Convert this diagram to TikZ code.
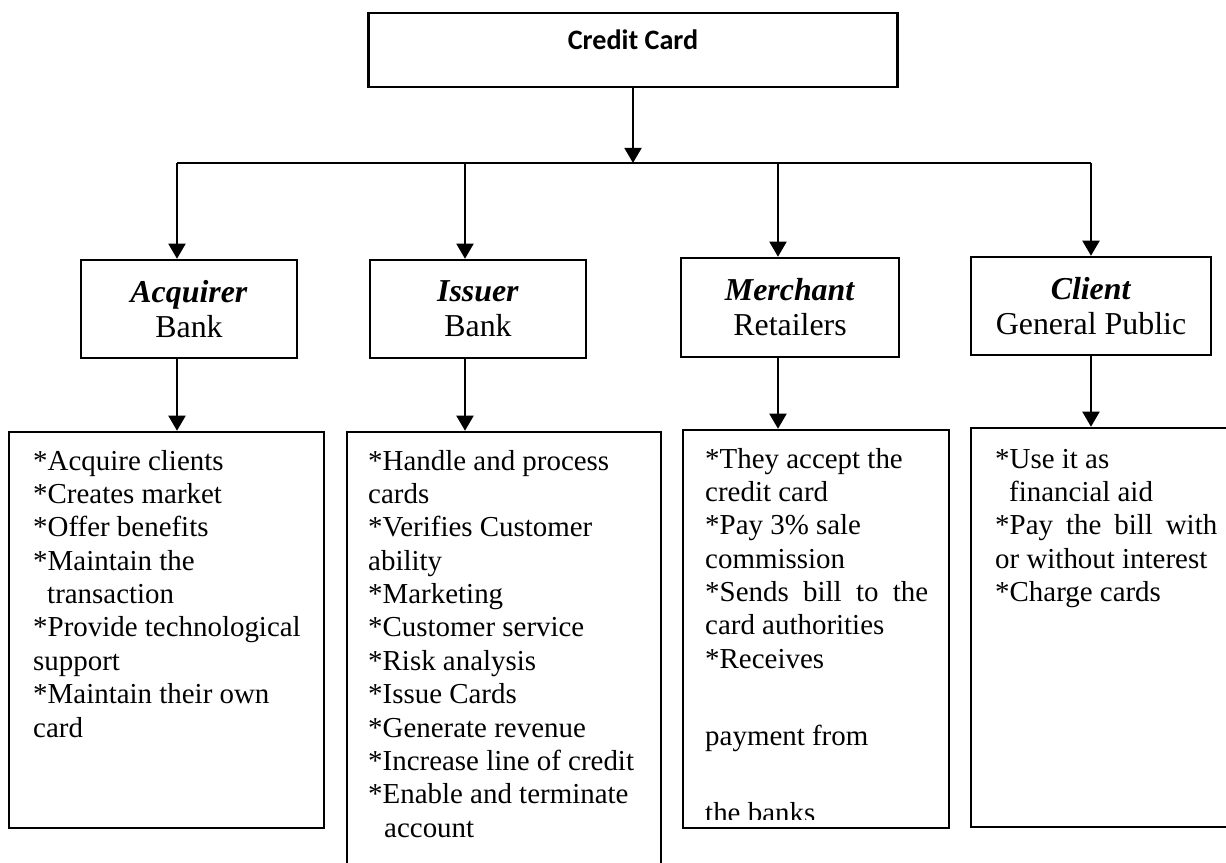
\documentclass[tikz,border=0pt]{standalone}
\usepackage{fontspec}
\setmainfont{Liberation Serif}
\newfontfamily\cardfont{Carlito}
\usetikzlibrary{arrows.meta}

\newcommand{\itemstar}{*}
\tikzset{
  box/.style={draw, inner sep=0pt},
  toptext/.style={font=\cardfont\bfseries\fontsize{8}{9.6}\selectfont, text depth=0.2cm},
  roletext/.style={align=center, font=\fontsize{9.07}{9.92}\selectfont},
  listtext/.style={anchor=base west, inner sep=0pt, font=\fontsize{8.23}{9.5}\selectfont},
}

\begin{document}
\begin{tikzpicture}[line width=0.7pt, >={Triangle[length=4.3pt,width=4.8pt]}]
    \useasboundingbox (0,0) rectangle (12.26,8.62);
    %% Draw the nodes
    \node[box, toptext, minimum width=5.29cm, minimum height=0.74cm] (CC) at (6.33,8.12) {Credit Card};
    \node[box, roletext, minimum width=2.16cm, minimum height=0.98cm] (Acq) at (1.89,5.53) {\textbf{\textit{Acquirer}}\\Bank};
    \node[box, roletext, minimum width=2.16cm, minimum height=0.98cm] (Iss) at (4.78,5.53) {\textbf{\textit{Issuer}}\\Bank};
    \node[box, roletext, minimum width=2.18cm, minimum height=0.99cm] (Mer) at (7.90,5.545) {\textbf{\textit{Merchant}}\\Retailers};
    \node[box, roletext, minimum width=2.40cm, minimum height=0.98cm] (Cli) at (10.91,5.56) {\textbf{\textit{Client}}\\General Public};
    %% Draw the list boxes
    \node[box, minimum width=3.15cm, minimum height=3.96cm] (B1) at (1.665,2.32) {};
    \node[box, minimum width=3.14cm, minimum height=4.68cm] (B2) at (5.04,1.96) {};
    \node[box, minimum width=2.66cm, minimum height=3.98cm] (B3) at (8.16,2.33) {};
    \node[box, minimum width=2.69cm, minimum height=3.99cm] (B4) at (11.055,2.345) {};
    %% Draw the list texts
    \node[listtext] (L1) at (0.32,3.92) {\begin{tabular}[t]{@{}l@{}}
      \itemstar Acquire clients\\ \itemstar Creates market\\ \itemstar Offer benefits\\
      \itemstar Maintain the\\ \hspace*{0.14cm}transaction\\
      \itemstar Provide technological\\ support\\
      \itemstar Maintain their own\\ card\end{tabular}};
    \node[listtext] (L2) at (3.67,3.92) {\begin{tabular}[t]{@{}l@{}}
      \itemstar Handle and process\\ cards\\ \itemstar Verifies Customer\\ ability\\
      \itemstar Marketing\\ \itemstar Customer service\\ \itemstar Risk analysis\\
      \itemstar Issue Cards\\ \itemstar Generate revenue\\
      \itemstar Increase line of credit\\ \itemstar Enable and terminate\\
      \hspace*{0.16cm}account\end{tabular}};
    \begin{scope}
      \clip (B3.north west) rectangle ([yshift=0.1cm]B3.south east);
      \node[listtext] (L3) at (7.04,3.94) {\begin{tabular}[t]{@{}l@{}}
        \itemstar They accept the\\ credit card\\ \itemstar Pay 3\% sale\\ commission\\
        \makebox[2.23cm][s]{\itemstar Sends bill to the}\\ card authorities\\
        \itemstar Receives\\[0.44cm] payment from\\[0.43cm] the banks\end{tabular}};
    \end{scope}
    \node[listtext] (L4) at (9.94,3.94) {\begin{tabular}[t]{@{}l@{}}
      \itemstar Use it as\\ \hspace*{0.14cm}financial aid\\
      \makebox[2.22cm][s]{\itemstar Pay the bill with}\\ or without interest\\
      \itemstar Charge cards\end{tabular}};
    %% Draw the branch points
    \coordinate (J1) at (1.77,6.99);
    \coordinate (J2) at (4.65,6.99);
    \coordinate (J3) at (7.78,6.99);
    \coordinate (J4) at (10.91,6.99);
    \draw (J1) -- (J4);
    %% Draw the edges
    \begin{scope}[every path/.style={->}]
      \draw (CC.south) -- (CC.south |- J1);
      \draw (J1) -- (J1 |- Acq.north);
      \draw (J2) -- (J2 |- Iss.north);
      \draw (J3) -- (J3 |- Mer.north);
      \draw (J4) -- (J4 |- Cli.north);
      \draw (J1 |- Acq.south) -- (J1 |- B1.north);
      \draw (J2 |- Iss.south) -- (J2 |- B2.north);
      \draw (J3 |- Mer.south) -- (J3 |- B3.north);
      \draw (J4 |- Cli.south) -- (J4 |- B4.north);
    \end{scope}
\end{tikzpicture}
\end{document}
